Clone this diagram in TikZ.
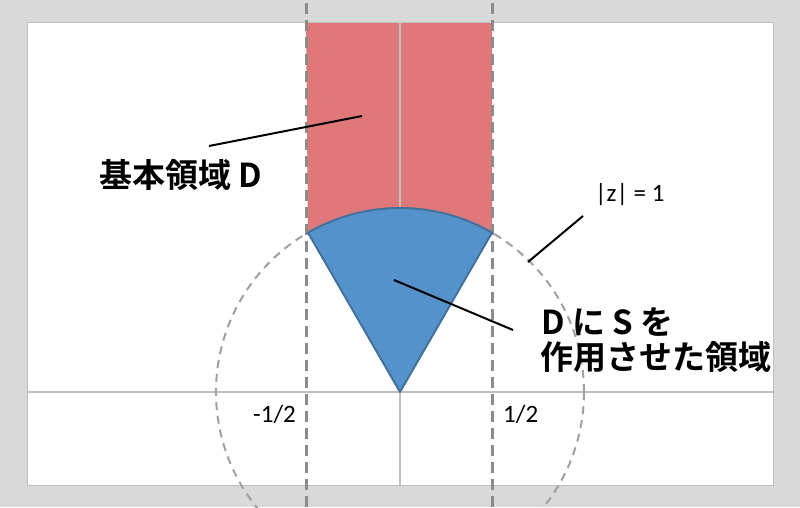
\documentclass[tikz,border=0pt]{standalone}
\usepackage{fontspec}
\newfontfamily\jp{Noto Sans CJK JP}[BoldFont={Noto Sans CJK JP Bold}]
\newfontfamily\lat{Carlito}
\usetikzlibrary{calc}
\definecolor{bggray}{HTML}{D9D9D9}
\definecolor{framegray}{HTML}{BFBFBF}
\definecolor{axisgray}{HTML}{BFBFBF}
\definecolor{dashdark}{HTML}{8C8C8C}
\definecolor{dashlight}{HTML}{A0A0A0}
\definecolor{regred}{HTML}{E07779}
\definecolor{regblue}{HTML}{5592CB}
\definecolor{blueline}{HTML}{41719C}
\tikzset{
  axisline/.style={draw=axisgray, line width=1.5pt},
  bounddash/.style={draw=dashdark, line width=3pt, dash pattern=on 11pt off 6pt},
  circdash/.style={draw=dashlight, line width=2pt, dash pattern=on 8pt off 6pt},
  pointer/.style={draw=black, line width=2pt},
  bigjp/.style={font=\jp\bfseries\fontsize{33}{38}\selectfont, inner sep=0pt, anchor=west},
  smalllat/.style={font=\lat\fontsize{25}{30}\selectfont, inner sep=0pt, anchor=west},
}
\begin{document}
\begin{tikzpicture}[x=1pt,y=1pt]
\useasboundingbox (0,0) rectangle (800,507);
\fill[bggray] (0,0) rectangle (800,507);
\filldraw[fill=white, draw=framegray, line width=1pt] (27,22) rectangle (773,484);
\coordinate (O) at (400,115);
\coordinate (R) at ($(O)+(60:184pt)$);
\coordinate (L) at ($(O)+(120:184pt)$);
% fundamental domain
\fill[regred] (306,484) -- (492,484) -- (R) arc[start angle=60, end angle=120, radius=184pt] -- cycle;
% axes
\draw[axisline] (27,115) -- (773,115);
\draw[axisline] (400,22) -- (400,484);
\draw[draw=framegray, line width=1pt] (306,484) -- (492,484);
% boundary lines and unit circle
\draw[bounddash] (306,0) -- (306,507);
\draw[bounddash] (492,0) -- (492,507);
\draw[circdash] (O) circle[radius=184pt];
% image of D under S
\filldraw[fill=regblue, draw=blueline, line width=2pt, line join=round] (O) -- (R) arc[start angle=60, end angle=120, radius=184pt] -- cycle;
% pointers
\coordinate (pa1) at (209,361);
\coordinate (pa2) at (362,391);
\draw[pointer] (pa1) -- (pa2);
\coordinate (pz1) at (528,245);
\coordinate (pz2) at (583,291);
\draw[pointer] (pz1) -- (pz2);
\coordinate (ps1) at (394,227);
\coordinate (ps2) at (513,177);
\draw[pointer] (ps1) -- (ps2);
% texts
\node[bigjp] (tD) at (99,331.5) {基本領域 D};
\node[bigjp] (tS1) at (541,185) {D に S を};
\node[bigjp] (tS2) at (540,150) {作用させた領域};
\node[smalllat] (tz) at (595,312) {|z| = 1};
\node[smalllat] (tm) at (253,93) {-1/2};
\node[smalllat] (tp) at (503,93) {1/2};
\end{tikzpicture}
\end{document}
